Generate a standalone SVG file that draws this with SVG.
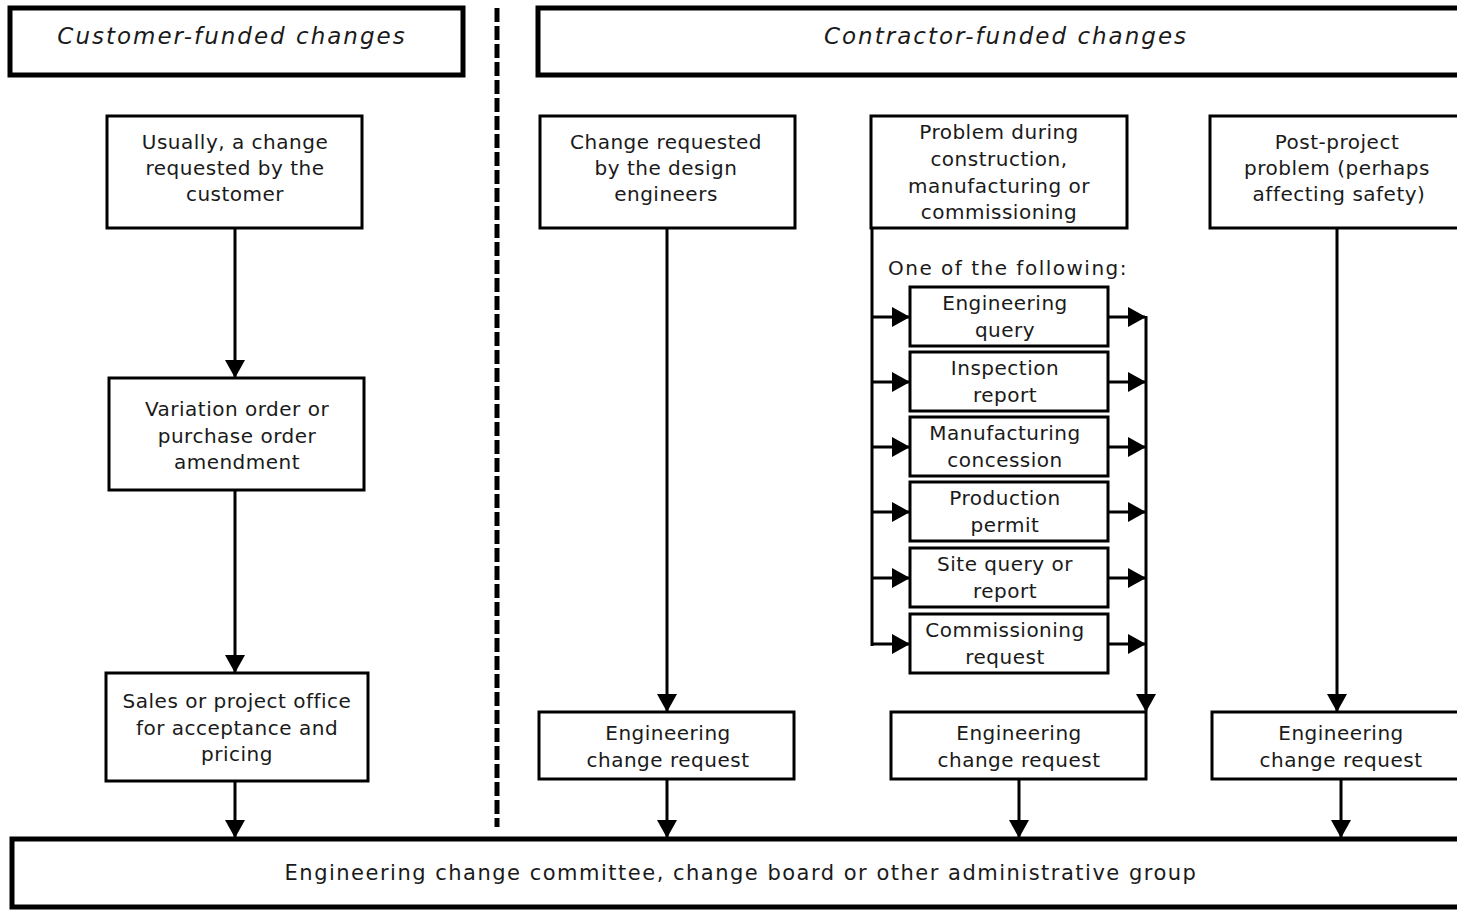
<svg xmlns="http://www.w3.org/2000/svg" width="1457" height="910" viewBox="0 0 1457 910">
<defs>
<marker id="ah" markerUnits="userSpaceOnUse" markerWidth="18" markerHeight="20" refX="17" refY="10" orient="auto">
<path d="M0,0 L18,10 L0,20 z" fill="#000"/>
</marker>
<style>
.bg{fill:#fff}
.box{fill:#fff;stroke:#000;stroke-width:3}
.hdr{fill:#fff;stroke:#000;stroke-width:5}
.t{font-family:"DejaVu Sans",Verdana,sans-serif;font-size:20px;fill:#1a1a1a;text-anchor:middle;letter-spacing:0.5px}
.h{font-style:italic;font-size:23px;letter-spacing:2px}
.w{letter-spacing:1.5px}
.b{font-size:21px;letter-spacing:1.5px}
.c{fill:none;stroke:#000;stroke-width:3}
.a{marker-end:url(#ah)}
.dash{fill:none;stroke:#000;stroke-width:5;stroke-dasharray:14 4}
</style>
</defs>
<rect class="bg" x="0" y="0" width="1457" height="910"/>
<g id="connectors">
<line class="dash" x1="497" y1="8" x2="497" y2="827"/>
<line class="c a" x1="235" y1="228" x2="235" y2="377"/>
<line class="c a" x1="235" y1="490" x2="235" y2="672"/>
<line class="c a" x1="235" y1="781" x2="235" y2="837"/>
<line class="c a" x1="667" y1="228" x2="667" y2="711"/>
<line class="c a" x1="667" y1="779" x2="667" y2="837"/>
<polyline class="c" points="872,228 872,646"/>
<line class="c a" x1="872" y1="317" x2="909" y2="317"/>
<line class="c a" x1="872" y1="382" x2="909" y2="382"/>
<line class="c a" x1="872" y1="447" x2="909" y2="447"/>
<line class="c a" x1="872" y1="512" x2="909" y2="512"/>
<line class="c a" x1="872" y1="578" x2="909" y2="578"/>
<line class="c a" x1="872" y1="644" x2="909" y2="644"/>
<line class="c a" x1="1108" y1="317" x2="1145" y2="317"/>
<line class="c a" x1="1108" y1="382" x2="1145" y2="382"/>
<line class="c a" x1="1108" y1="447" x2="1145" y2="447"/>
<line class="c a" x1="1108" y1="512" x2="1145" y2="512"/>
<line class="c a" x1="1108" y1="578" x2="1145" y2="578"/>
<line class="c a" x1="1108" y1="644" x2="1145" y2="644"/>
<line class="c a" x1="1146" y1="316" x2="1146" y2="711"/>
<line class="c a" x1="1019" y1="779" x2="1019" y2="837"/>
<line class="c a" x1="1337" y1="228" x2="1337" y2="711"/>
<line class="c a" x1="1341" y1="779" x2="1341" y2="837"/>
</g>
<g id="hdr-customer">
<rect class="hdr" x="10" y="8" width="453" height="67"/>
<text class="t h" x="232" y="44">Customer-funded changes</text>
</g>
<g id="hdr-contractor">
<rect class="hdr" x="538" y="8" width="940" height="67"/>
<text class="t h" x="1006" y="44">Contractor-funded changes</text>
</g>
<g id="n-customer-request">
<rect class="box" x="107" y="116" width="255" height="112"/>
<text class="t" x="235" y="149">Usually, a change</text>
<text class="t" x="235" y="175">requested by the</text>
<text class="t" x="235" y="201">customer</text>
</g>
<g id="n-variation">
<rect class="box" x="109" y="378" width="255" height="112"/>
<text class="t" x="237" y="416">Variation order or</text>
<text class="t" x="237" y="443">purchase order</text>
<text class="t" x="237" y="469">amendment</text>
</g>
<g id="n-sales">
<rect class="box" x="106" y="673" width="262" height="108"/>
<text class="t" x="237" y="708">Sales or project office</text>
<text class="t" x="237" y="735">for acceptance and</text>
<text class="t" x="237" y="761">pricing</text>
</g>
<g id="n-design">
<rect class="box" x="540" y="116" width="255" height="112"/>
<text class="t" x="666" y="149">Change requested</text>
<text class="t" x="666" y="175">by the design</text>
<text class="t" x="666" y="201">engineers</text>
</g>
<g id="n-problem">
<rect class="box" x="871" y="116" width="256" height="112"/>
<text class="t" x="999" y="139">Problem during</text>
<text class="t" x="999" y="166">construction,</text>
<text class="t" x="999" y="193">manufacturing or</text>
<text class="t" x="999" y="219">commissioning</text>
</g>
<g id="lbl-one-of">
<text class="t w" x="1008" y="275">One of the following:</text>
</g>
<g id="n-eq">
<rect class="box" x="910" y="287" width="198" height="59"/>
<text class="t" x="1005" y="310">Engineering</text>
<text class="t" x="1005" y="337">query</text>
</g>
<g id="n-ir">
<rect class="box" x="910" y="352" width="198" height="59"/>
<text class="t" x="1005" y="375">Inspection</text>
<text class="t" x="1005" y="402">report</text>
</g>
<g id="n-mc">
<rect class="box" x="910" y="417" width="198" height="59"/>
<text class="t" x="1005" y="440">Manufacturing</text>
<text class="t" x="1005" y="467">concession</text>
</g>
<g id="n-pp">
<rect class="box" x="910" y="482" width="198" height="59"/>
<text class="t" x="1005" y="505">Production</text>
<text class="t" x="1005" y="532">permit</text>
</g>
<g id="n-sq">
<rect class="box" x="910" y="548" width="198" height="59"/>
<text class="t" x="1005" y="571">Site query or</text>
<text class="t" x="1005" y="598">report</text>
</g>
<g id="n-cr">
<rect class="box" x="910" y="614" width="198" height="59"/>
<text class="t" x="1005" y="637">Commissioning</text>
<text class="t" x="1005" y="664">request</text>
</g>
<g id="n-post">
<rect class="box" x="1210" y="116" width="254" height="112"/>
<text class="t" x="1337" y="149">Post-project</text>
<text class="t" x="1337" y="175">problem (perhaps</text>
<text class="t" x="1339" y="201">affecting safety)</text>
</g>
<g id="n-ecr1">
<rect class="box" x="539" y="712" width="255" height="67"/>
<text class="t" x="668" y="740">Engineering</text>
<text class="t" x="668" y="767">change request</text>
</g>
<g id="n-ecr2">
<rect class="box" x="891" y="712" width="255" height="67"/>
<text class="t" x="1019" y="740">Engineering</text>
<text class="t" x="1019" y="767">change request</text>
</g>
<g id="n-ecr3">
<rect class="box" x="1212" y="712" width="258" height="67"/>
<text class="t" x="1341" y="740">Engineering</text>
<text class="t" x="1341" y="767">change request</text>
</g>
<g id="n-committee">
<rect class="hdr" x="12" y="839" width="1470" height="68"/>
<text class="t b" x="741" y="880">Engineering change committee, change board or other administrative group</text>
</g>
</svg>
